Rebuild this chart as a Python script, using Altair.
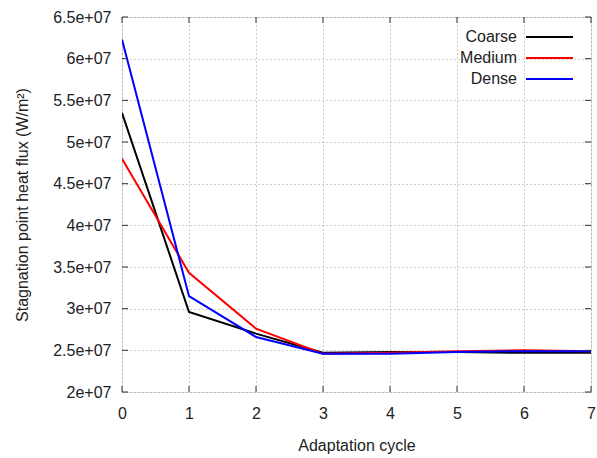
import altair as alt
import pandas as pd

cycles = [0, 1, 2, 3, 4, 5, 6, 7]
coarse = [5.35e7, 2.96e7, 2.70e7, 2.47e7, 2.48e7, 2.48e7, 2.47e7, 2.47e7]
medium = [4.80e7, 3.43e7, 2.76e7, 2.46e7, 2.47e7, 2.49e7, 2.50e7, 2.49e7]
dense = [6.23e7, 3.15e7, 2.66e7, 2.46e7, 2.46e7, 2.48e7, 2.49e7, 2.49e7]
series_names = ["Coarse", "Medium", "Dense"]
series_colors = ["#000000", "#ff0000", "#0000ff"]
x_ticks = [0, 1, 2, 3, 4, 5, 6, 7]
y_ticks = [2e7, 2.5e7, 3e7, 3.5e7, 4e7, 4.5e7, 5e7, 5.5e7, 6e7, 6.5e7]

W, H = 469, 375
FONT = "Liberation Sans"
FS = 16

rows = []
for name, vals in zip(series_names, [coarse, medium, dense]):
    for c, v in zip(cycles, vals):
        rows.append({"cycle": c, "flux": v, "series": name})
df = pd.DataFrame(rows)

xscale = alt.Scale(domain=[0, 7], nice=False, zero=False)
yscale = alt.Scale(domain=[2e7, 6.5e7], nice=False, zero=False)
color_scale = alt.Scale(domain=series_names, range=series_colors)

base = alt.Chart(df)

lines = base.mark_line(strokeWidth=2, clip=True).encode(
    x=alt.X("cycle:Q", scale=xscale,
            axis=alt.Axis(values=x_ticks, title="Adaptation cycle", grid=True,
                          gridDash=[1, 3], gridColor="#999", gridOpacity=1,
                          ticks=False, domain=False, labelPadding=13,
                          labelFlush=False, labelOverlap=False,
                          labelFont=FONT, labelFontSize=FS, labelColor="#222",
                          titleFont=FONT, titleFontSize=FS, titleFontWeight="normal",
                          titleColor="#222", titlePadding=16, format="d")),
    y=alt.Y("flux:Q", scale=yscale,
            axis=alt.Axis(values=y_ticks, title="Stagnation point heat flux (W/m²)",
                          grid=True, gridDash=[1, 3], gridColor="#999", gridOpacity=1,
                          ticks=False, domain=False, labelPadding=11,
                          labelFlush=False, labelOverlap=False,
                          labelExpr="format(datum.value/1e7, '~g') + 'e+07'",
                          labelFont=FONT, labelFontSize=FS, labelColor="#222",
                          titleFont=FONT, titleFontSize=FS, titleFontWeight="normal",
                          titleColor="#222", titlePadding=22)),
    color=alt.Color("series:N", scale=color_scale, legend=None),
    order=alt.Order("cycle:Q"),
)

xt = pd.DataFrame({"v": x_ticks})
yt = pd.DataFrame({"v": y_ticks})
tick_style = dict(color="#333", strokeWidth=1)
xb = alt.Chart(xt).mark_rule(**tick_style).encode(
    x=alt.X("v:Q", scale=xscale), y=alt.value(H), y2=alt.value(H - 6))
xtop = alt.Chart(xt).mark_rule(**tick_style).encode(
    x=alt.X("v:Q", scale=xscale), y=alt.value(0), y2=alt.value(6))
yl = alt.Chart(yt).mark_rule(**tick_style).encode(
    y=alt.Y("v:Q", scale=yscale), x=alt.value(0), x2=alt.value(6))
yr = alt.Chart(yt).mark_rule(**tick_style).encode(
    y=alt.Y("v:Q", scale=yscale), x=alt.value(W), x2=alt.value(W - 6))

legend_layers = []
leg_y = [20, 41, 62]
for name, col, yy in zip(series_names, series_colors, leg_y):
    ldf = pd.DataFrame({"series": [name]})
    legend_layers.append(
        alt.Chart(ldf).mark_rule(color=col, strokeWidth=2).encode(
            x=alt.value(404), x2=alt.value(451), y=alt.value(yy)))
    legend_layers.append(
        alt.Chart(ldf).mark_text(align="right", baseline="middle", font=FONT,
                                 fontSize=FS, color="#222").encode(
            text="series:N", x=alt.value(395), y=alt.value(yy)))

chart = alt.layer(lines, xb, xtop, yl, yr, *legend_layers).properties(
    width=W, height=H,
    autosize=alt.AutoSizeParams(type="none"),
    padding={"left": 122, "top": 17, "right": 6, "bottom": 66},
).configure_view(stroke="#333", strokeWidth=1.2).configure(background="white")

chart.save("out.html", embed_options={"renderer": "svg", "actions": False})
